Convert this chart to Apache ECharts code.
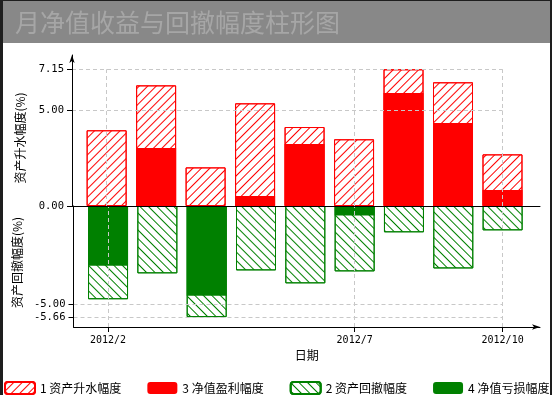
<!DOCTYPE html>
<html>
<head>
<meta charset="utf-8">
<script src="https://cdn.jsdelivr.net/npm/echarts@6/dist/echarts.min.js"></script>
<style>
html,body{margin:0;padding:0;width:552px;height:395px;overflow:hidden;background:#1e1e1e;}
#chart{position:absolute;left:3px;top:1px;width:547px;height:394px;background:#fff;}
</style>
</head>
<body>
<div id="chart"></div>
<script>
// ---- data ----
const categories = ['2012/2','2012/3','2012/4','2012/5','2012/6','2012/7','2012/8','2012/9','2012/10'];
const xTickLabels = ['2012/2','2012/7','2012/10'];
const assetRise = [3.96, 6.31, 2.02, 5.37, 4.13, 3.49, 7.15, 6.47, 2.70];     // 1 资产升水幅度
const netProfit = [null, 3.03, null, 0.52, 3.24, null, 5.91, 4.34, 0.84];      // 3 净值盈利幅度
const assetDrawdown = [-4.75, -3.43, -5.66, -3.28, -3.94, -3.33, -1.34, -3.18, -1.24]; // 2 资产回撤幅度
const netLoss = [-3.04, null, -4.57, null, null, -0.48, null, null, null];    // 4 净值亏损幅度
const upperTicks = [0, 5.00, 7.15];
const lowerTicks = [-5.00, -5.66];

const seriesNames = ['1 资产升水幅度', '3 净值盈利幅度', '2 资产回撤幅度', '4 净值亏损幅度'];

// ---- layout ----
const X_MIN = -0.7, X_MAX = 8.758;
const UP_MAX = 7.897, LOW_MIN = -6.164;
const RED = '#ff0000', GREEN = '#008000';
const monoFont = 'DejaVu Sans Mono';
const cjkFont = 'Noto Sans CJK SC';

const xTickIdx = xTickLabels.map(l => categories.indexOf(l));
const lastIdx = categories.length - 1;
const toXY = arr => arr.map((v, i) => [i, v]);
const dashStyle = { color: '#c8c8c8', type: [4, 3], width: 1 };

const hLines = (ticks) => ticks.filter(t => t !== 0).map(t => [{ coord: [X_MIN, t] }, { coord: [lastIdx, t] }]);

const chart = echarts.init(document.getElementById('chart'));
const option = {
  animation: false,
  graphic: [{ type: 'rect', shape: { x: 0, y: 0, width: 547, height: 42 }, style: { fill: '#888888' }, z: -1 }],
  title: {
    text: '月净值收益与回撤幅度柱形图', left: 12, top: 9, padding: 0,
    textStyle: { color: '#a6a6a6', fontSize: 25, fontWeight: 'normal', fontFamily: cjkFont }
  },
  legend: {
    data: seriesNames, left: 1, top: 380, padding: 0, itemWidth: 30, itemHeight: 12, itemGap: 26,
    textStyle: { fontSize: 12, color: '#000', fontFamily: cjkFont }
  },
  grid: [
    { left: 69, top: 54, width: 468, height: 151 },
    { left: 69, top: 205, width: 468, height: 121 }
  ],
  xAxis: [
    { type: 'value', gridIndex: 0, min: X_MIN, max: X_MAX, z: 10,
      axisLine: { show: true, onZero: false, lineStyle: { color: '#000', width: 1 } },
      axisTick: { show: false }, axisLabel: { show: false }, splitLine: { show: false } },
    { type: 'value', gridIndex: 1, min: X_MIN, max: X_MAX, z: 10,
      name: '日期', nameLocation: 'middle', nameGap: 22,
      nameTextStyle: { fontSize: 12, color: '#000', fontFamily: cjkFont },
      axisLine: { show: true, onZero: false, symbol: ['none', 'arrow'], symbolSize: [4, 8], lineStyle: { color: '#000', width: 1 } },
      axisTick: { show: true, customValues: xTickIdx, length: 5, lineStyle: { color: '#000' } },
      axisLabel: { customValues: xTickIdx, formatter: v => categories[Math.round(v)], color: '#000', fontSize: 10, fontFamily: monoFont, margin: 8 },
      splitLine: { show: false } }
  ],
  yAxis: [
    { type: 'value', gridIndex: 0, min: 0, max: UP_MAX, z: 10,
      name: '资产升水幅度(%)', nameLocation: 'middle', nameRotate: 90, nameGap: 46,
      nameTextStyle: { fontSize: 12, color: '#000', fontFamily: cjkFont, padding: [0, 15, 0, 0] },
      axisLine: { show: true, onZero: false, symbol: ['none', 'arrow'], symbolSize: [4, 8], lineStyle: { color: '#000', width: 1 } },
      axisTick: { show: true, customValues: upperTicks, length: 5, lineStyle: { color: '#000' } },
      axisLabel: { customValues: upperTicks, formatter: v => v.toFixed(2), color: '#000', fontSize: 10.5, fontFamily: monoFont, margin: 8 },
      splitLine: { show: false } },
    { type: 'value', gridIndex: 1, min: LOW_MIN, max: 0, z: 10,
      name: '资产回撤幅度(%)', nameLocation: 'middle', nameRotate: 90, nameGap: 46,
      nameTextStyle: { fontSize: 12, color: '#000', fontFamily: cjkFont, padding: [0, 0, 0, 8] },
      axisLine: { show: true, onZero: false, lineStyle: { color: '#000', width: 1 } },
      axisTick: { show: true, customValues: lowerTicks, length: 5, lineStyle: { color: '#000' } },
      axisLabel: { customValues: lowerTicks, formatter: v => v.toFixed(2), color: '#000', fontSize: 10.5, fontFamily: monoFont, margin: 8 },
      splitLine: { show: false } }
  ],
  series: [
    { name: seriesNames[0], type: 'bar', xAxisIndex: 0, yAxisIndex: 0, barWidth: 40, barGap: '-100%', z: 3,
      data: toXY(assetRise),
      itemStyle: { color: '#ffffff', borderColor: RED, borderWidth: 1,
        decal: { symbol: 'rect', symbolSize: 1, dashArrayX: [1, 0], dashArrayY: [1, 4.5], rotation: -Math.PI / 4, color: RED } } },
    { name: seriesNames[1], type: 'bar', xAxisIndex: 0, yAxisIndex: 0, barWidth: 40, barGap: '-100%', z: 4,
      data: toXY(netProfit), itemStyle: { color: RED } },
    { name: seriesNames[2], type: 'bar', xAxisIndex: 1, yAxisIndex: 1, barWidth: 40, barGap: '-100%', z: 3,
      data: toXY(assetDrawdown),
      itemStyle: { color: '#ffffff', borderColor: GREEN, borderWidth: 1,
        decal: { symbol: 'rect', symbolSize: 1, dashArrayX: [1, 0], dashArrayY: [1, 4.5], rotation: Math.PI / 4, color: GREEN } } },
    { name: seriesNames[3], type: 'bar', xAxisIndex: 1, yAxisIndex: 1, barWidth: 40, barGap: '-100%', z: 4,
      data: toXY(netLoss), itemStyle: { color: GREEN } },
    { type: 'line', xAxisIndex: 0, yAxisIndex: 0, data: [], z: 1, silent: true,
      markLine: { silent: true, symbol: ['none', 'none'], label: { show: false }, lineStyle: dashStyle, animation: false,
        data: hLines(upperTicks).concat(xTickIdx.map(i => [{ coord: [i, 0] }, { coord: [i, upperTicks[upperTicks.length - 1]] }])) } },
    { type: 'line', xAxisIndex: 1, yAxisIndex: 1, data: [], z: 1, silent: true,
      markLine: { silent: true, symbol: ['none', 'none'], label: { show: false }, lineStyle: dashStyle, animation: false,
        data: hLines(lowerTicks).concat(xTickIdx.map(i => [{ coord: [i, LOW_MIN] }, { coord: [i, 0] }])) } }
  ]
};
chart.setOption(option);
</script>
</body>
</html>
